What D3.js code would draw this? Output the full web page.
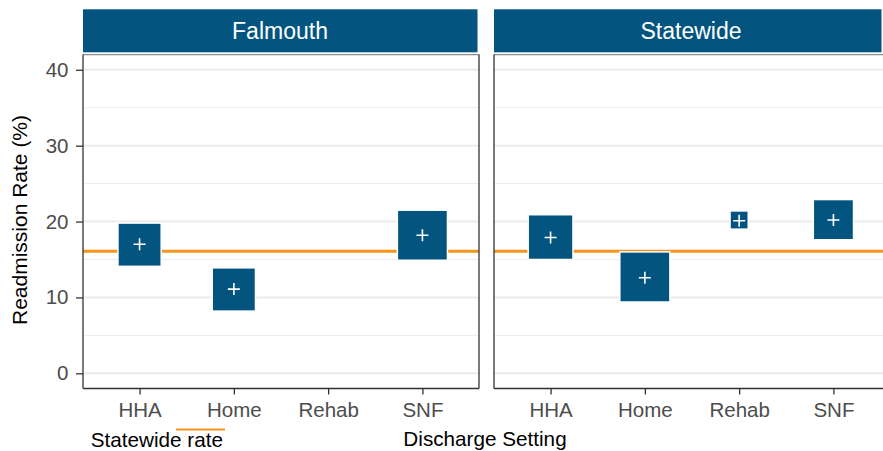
<!DOCTYPE html>
<html><head><meta charset="utf-8">
<script src="https://cdn.jsdelivr.net/npm/d3@7"></script>
<style>body{margin:0;background:#fff}svg{display:block;font-family:"Liberation Sans",Arial,sans-serif}</style>
</head><body><svg id="c" width="883" height="451"></svg>
<script>
const categories = ["HHA","Home","Rehab","SNF"];
const facets = ["Falmouth","Statewide"];
const falmouthEst = [17.0, 11.1, null, 18.2];
const falmouthLo  = [14.1, 8.2, null, 14.9];
const falmouthHi  = [19.8, 13.9, null, 21.5];
const statewideEst = [17.9, 12.6, 20.1, 20.2];
const statewideLo  = [15.0, 9.4, 19.0, 17.6];
const statewideHi  = [20.9, 16.0, 21.4, 22.9];
const statewideRate = 16.1;
const yTicks = [0,10,20,30,40];
const yMinor = [5,15,25,35];

const series = {
  Falmouth: {est: falmouthEst, lo: falmouthLo, hi: falmouthHi},
  Statewide: {est: statewideEst, lo: statewideLo, hi: statewideHi}
};

const svg = d3.select("#c");
const BLUE = "#03557f", ORANGE = "#f7941d";
const pTop = 54.6, pBottom = 388.5;
const y = d3.scaleLinear().domain([-2, 42]).range([pBottom, pTop]);
const panels = [{name:"Falmouth", x0:83, x1:479}, {name:"Statewide", x0:494, x1:890}];

panels.forEach((p, pi) => {
  const x = d3.scalePoint().domain(categories).range([p.x0, p.x1]).padding(0.6);
  const g = svg.append("g");
  const clipId = "clip" + pi;
  svg.append("clipPath").attr("id", clipId).append("rect")
    .attr("x", p.x0).attr("y", pTop).attr("width", p.x1 - p.x0).attr("height", pBottom - pTop);
  const inner = g.append("g").attr("clip-path", `url(#${clipId})`);
  inner.selectAll(".minor").data(yMinor).join("line")
    .attr("x1", p.x0).attr("x2", p.x1).attr("y1", d => y(d)).attr("y2", d => y(d))
    .attr("stroke", "#ebebeb").attr("stroke-width", 1);
  inner.selectAll(".major").data(yTicks).join("line")
    .attr("x1", p.x0).attr("x2", p.x1).attr("y1", d => y(d)).attr("y2", d => y(d))
    .attr("stroke", "#ebebeb").attr("stroke-width", 2);
  inner.append("line").attr("x1", p.x0).attr("x2", p.x1)
    .attr("y1", y(statewideRate)).attr("y2", y(statewideRate))
    .attr("stroke", ORANGE).attr("stroke-width", 3);
  const s = series[p.name];
  const data = categories.map((c, i) => ({c, est: s.est[i], lo: s.lo[i], hi: s.hi[i]})).filter(d => d.est != null);
  const bx = inner.selectAll(".box").data(data).join("g");
  bx.append("rect")
    .attr("x", d => x(d.c) - (y(d.lo) - y(d.hi)) / 2)
    .attr("y", d => y(d.hi))
    .attr("width", d => y(d.lo) - y(d.hi))
    .attr("height", d => y(d.lo) - y(d.hi))
    .attr("fill", BLUE).attr("stroke", "#fff").attr("stroke-width", 1.5);
  bx.append("path")
    .attr("d", d => `M${x(d.c)-6},${y(d.est)}h12M${x(d.c)},${y(d.est)-6}v12`)
    .attr("stroke", "#fff").attr("stroke-width", 1.6);
  g.append("line").attr("x1", p.x0).attr("x2", p.x1).attr("y1", pTop).attr("y2", pTop)
    .attr("stroke", "#8a8a8a").attr("stroke-width", 1.2);
  g.append("line").attr("x1", p.x0).attr("x2", p.x0).attr("y1", pTop).attr("y2", pBottom)
    .attr("stroke", "#333").attr("stroke-width", 1.3);
  g.append("line").attr("x1", p.x1).attr("x2", p.x1).attr("y1", pTop).attr("y2", pBottom)
    .attr("stroke", "#333").attr("stroke-width", 1.3);
  g.append("line").attr("x1", p.x0).attr("x2", p.x1).attr("y1", pBottom).attr("y2", pBottom)
    .attr("stroke", "#333").attr("stroke-width", 1.3);
  const xa = g.append("g").attr("transform", `translate(0,${pBottom})`)
    .call(d3.axisBottom(x).tickSize(6).tickPadding(8));
  xa.select(".domain").remove();
  xa.selectAll(".tick line").attr("stroke", "#333").attr("stroke-width", 1.3);
  xa.selectAll(".tick text").attr("fill", "#4d4d4d").attr("font-size", 20.5)
    .attr("font-family", "Liberation Sans, Arial, sans-serif");
  g.append("rect").attr("x", p.x0).attr("y", 9.3).attr("width", Math.min(p.x1, 883) - p.x0 - 1.5).attr("height", 43)
    .attr("fill", BLUE);
  g.append("text").attr("x", (p.x0 + p.x1 - 2) / 2).attr("y", 38.8).attr("text-anchor", "middle")
    .attr("fill", "#fff").attr("font-size", 23).text(p.name);
});

const ya = svg.append("g").attr("transform", "translate(83,0)")
  .call(d3.axisLeft(y).tickValues(yTicks).tickSize(7).tickPadding(7.5));
ya.select(".domain").remove();
ya.selectAll(".tick line").attr("stroke", "#333").attr("stroke-width", 1.3);
ya.selectAll(".tick text").attr("fill", "#4d4d4d").attr("font-size", 20.5)
  .attr("font-family", "Liberation Sans, Arial, sans-serif");

svg.append("text").attr("transform", "translate(26.7,220) rotate(-90)").attr("text-anchor", "middle")
  .attr("font-size", 21).attr("fill", "#000").text("Readmission Rate (%)");
svg.append("text").attr("x", 485).attr("y", 446).attr("text-anchor", "middle")
  .attr("font-size", 20.7).attr("fill", "#000").text("Discharge Setting");

svg.append("line").attr("x1", 176).attr("x2", 225).attr("y1", 429.5).attr("y2", 429.5)
  .attr("stroke", ORANGE).attr("stroke-width", 2);
svg.append("text").attr("x", 90.7).attr("y", 446.5).attr("font-size", 20.7).attr("fill", "#000").text("Statewide rate");
</script></body></html>
